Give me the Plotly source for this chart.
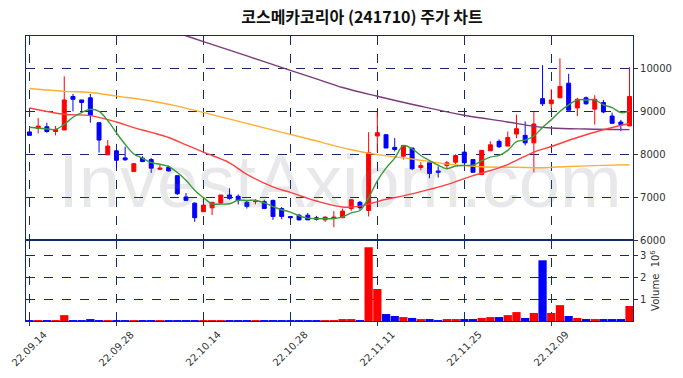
import plotly.graph_objects as go
from plotly.subplots import make_subplots
import pandas as pd

dates = ["22.09.14","22.09.15","22.09.16","22.09.19","22.09.20","22.09.21","22.09.22","22.09.23","22.09.26","22.09.27",
         "22.09.28","22.09.29","22.09.30","22.10.04","22.10.05","22.10.06","22.10.07","22.10.11","22.10.12","22.10.13",
         "22.10.14","22.10.17","22.10.18","22.10.19","22.10.20","22.10.21","22.10.24","22.10.25","22.10.26","22.10.27",
         "22.10.28","22.10.31","22.11.01","22.11.02","22.11.03","22.11.04","22.11.07","22.11.08","22.11.09","22.11.10",
         "22.11.11","22.11.14","22.11.15","22.11.16","22.11.17","22.11.18","22.11.21","22.11.22","22.11.23","22.11.24",
         "22.11.25","22.11.28","22.11.29","22.11.30","22.12.01","22.12.02","22.12.05","22.12.06","22.12.07","22.12.08",
         "22.12.09","22.12.12","22.12.13","22.12.14","22.12.15","22.12.16","22.12.19","22.12.20","22.12.21","22.12.22"]

opens = [8520, 8600, 8640, 8530, 8565, 9345, 9265, 9315, 8735, 7985,
         8080, 7915, 7595, 7910, 7875, 7650, 7690, 7500, 7005, 6860,
         6660, 6750, 6860, 7050, 7020, 6880, 6895, 6895, 6925, 6735,
         6550, 6580, 6580, 6520, 6470, 6505, 6520, 6735, 6880, 6690,
         8425, 8455, 8160, 7955, 8145, 7690, 7800, 7610, 7735, 7815,
         8050, 7875, 7525, 8080, 8300, 8190, 8470, 8440, 8265, 9295,
         9175, 9315, 9655, 9080, 9315, 9050, 9205, 8890, 8750, 8660]
highs = [8520, 8845, 8735, 8660, 9815, 9405, 9265, 9405, 8735, 8330,
         8080, 8175, 7780, 7955, 7910, 7750, 7735, 7500, 7095, 6880,
         6815, 6880, 7050, 7205, 7065, 6925, 6955, 6940, 6940, 6770,
         6560, 6610, 6630, 6565, 6550, 6675, 6735, 6955, 6910, 8515,
         8985, 8455, 8375, 8205, 8145, 7815, 7800, 7720, 7845, 8000,
         8050, 7875, 8090, 8300, 8345, 8530, 8925, 8765, 8985, 10075,
         9515, 10235, 9875, 9315, 9345, 9375, 9265, 8970, 8800, 10030]
lows = [8440, 8485, 8500, 8440, 8565, 9000, 8970, 8735, 8040, 7985,
        7675, 7845, 7595, 7815, 7565, 7630, 7595, 7050, 6910, 6425,
        6660, 6580, 6860, 6940, 6830, 6735, 6830, 6720, 6470, 6485,
        6510, 6455, 6470, 6455, 6425, 6300, 6520, 6680, 6705, 6550,
        8050, 8145, 8065, 7875, 7625, 7625, 7440, 7455, 7645, 7770,
        7800, 7580, 7525, 8080, 8145, 8190, 8375, 8205, 7580, 9125,
        9050, 9315, 9025, 8890, 9155, 8690, 8955, 8720, 8535, 8660]
closes = [8440, 8655, 8530, 8580, 9265, 9280, 9205, 8905, 8330, 8190,
          7860, 7870, 7780, 7830, 7675, 7675, 7610, 7080, 6925, 6520,
          6815, 6880, 7050, 6970, 6925, 6785, 6910, 6735, 6550, 6550,
          6520, 6470, 6470, 6485, 6535, 6535, 6675, 6940, 6755, 8035,
          8500, 8145, 8110, 8205, 7660, 7735, 7550, 7580, 7800, 7970,
          7800, 7580, 8090, 8220, 8175, 8390, 8595, 8265, 8705, 9175,
          9265, 9580, 9025, 9280, 9175, 9280, 8985, 8720, 8690, 9345]
volumes_m = [0.03, 0.04, 0.03, 0.04, 0.27, 0.02, 0.02, 0.08, 0.04, 0.04,
             0.03, 0.02, 0.03, 0.02, 0.03, 0.02, 0.02, 0.03, 0.02, 0.03,
             0.04, 0.04, 0.04, 0.02, 0.02, 0.02, 0.02, 0.02, 0.02, 0.02,
             0.02, 0.02, 0.02, 0.02, 0.03, 0.04, 0.05, 0.09, 0.02, 3.39,
             1.47, 0.32, 0.23, 0.18, 0.14, 0.05, 0.09, 0.03, 0.09, 0.05,
             0.09, 0.05, 0.14, 0.18, 0.18, 0.27, 0.41, 0.14, 0.37, 2.79,
             0.37, 0.73, 0.23, 0.14, 0.09, 0.09, 0.09, 0.09, 0.09, 0.69]

# first four 5-day average values (earlier closes not shown)
ma5_head = [8627, 8610, 8587, 8580]

# longer moving averages at sample positions
ma20_idx = [0, 4, 7, 10, 12, 14, 16, 18, 20, 23, 25, 28, 30, 33, 36, 38, 41, 43, 46, 48, 51, 53, 55, 58, 60, 63, 66, 69]
ma20_val = [9078, 8931, 8900, 8750, 8620, 8510, 8390, 8220, 8049, 7800, 7530, 7240, 7110, 6910, 6770, 6790, 6950, 7030,
            7180, 7290, 7500, 7620, 7760, 8050, 8180, 8390, 8570, 8715]
ma60_idx = [0, 4, 7, 10, 14, 17, 22, 27, 32, 37, 40, 44, 48, 52, 56, 59, 62, 66, 69]
ma60_val = [9530, 9465, 9440, 9355, 9240, 9120, 8870, 8615, 8360, 8105, 7990, 7890, 7770, 7710, 7695, 7685, 7715, 7740, 7755]
ma120_idx = [15, 18, 20, 25, 30, 33, 36, 40, 45, 50, 55, 58, 60, 64, 69]
ma120_val = [10960, 10760, 10626, 10291, 9956, 9755, 9554, 9352, 9118, 8908, 8751, 8650, 8611, 8587, 8573]

x = list(range(len(dates)))
ma5 = pd.Series(closes, dtype=float).rolling(5).mean().tolist()
ma5[:4] = ma5_head

up = [c >= o for o, c in zip(opens, closes)]
vol_colors = ["#ff0000" if u else "#0000ff" for u in up]
tick_pos = x[::10]
tick_txt = dates[::10]

NAVY = "#102a6b"
FONT = "DejaVu Sans, Liberation Sans, Arial"

fig = make_subplots(rows=2, cols=1, shared_xaxes=True, vertical_spacing=0.0,
                    row_heights=[0.716, 0.284])

# watermark (drawn first so it lies underneath)
fig.add_trace(go.Scatter(x=[35.7], y=[7200], mode="text", text=["InvestAxiom.com"],
                         textfont=dict(family="Liberation Sans, Arial", size=74, color="rgba(120,120,135,0.17)"),
                         hoverinfo="skip", showlegend=False), row=1, col=1)

fig.add_trace(go.Scatter(x=ma120_idx, y=ma120_val, mode="lines", line=dict(color="#7a3b7a", width=1.4, shape="spline"),
                         showlegend=False, hoverinfo="skip"), row=1, col=1)
fig.add_trace(go.Scatter(x=ma60_idx, y=ma60_val, mode="lines", line=dict(color="#ffb030", width=1.4, shape="spline"),
                         showlegend=False, hoverinfo="skip"), row=1, col=1)
fig.add_trace(go.Scatter(x=ma20_idx, y=ma20_val, mode="lines", line=dict(color="#ff4040", width=1.4, shape="spline"),
                         showlegend=False, hoverinfo="skip"), row=1, col=1)
fig.add_trace(go.Scatter(x=x, y=ma5, mode="lines", line=dict(color="#3a9a3a", width=1.4, shape="spline"),
                         showlegend=False, hoverinfo="skip"), row=1, col=1)

fig.add_trace(go.Candlestick(x=x, open=opens, high=highs, low=lows, close=closes,
                             increasing=dict(line=dict(color="#ff0000", width=1), fillcolor="#ff0000"),
                             decreasing=dict(line=dict(color="#0000ff", width=1), fillcolor="#0000ff"),
                             whiskerwidth=0, showlegend=False), row=1, col=1)

fig.add_trace(go.Bar(x=x, y=volumes_m, marker=dict(color=vol_colors, line=dict(width=0)),
                     width=0.95, showlegend=False), row=2, col=1)

axis_common = dict(showline=True, linecolor=NAVY, linewidth=1.2, mirror=True, automargin=False,
                   showgrid=True, gridcolor=NAVY, griddash="dash", gridwidth=1, zeroline=False)

fig.update_xaxes(**axis_common, range=[-0.4, 69.4], tickvals=tick_pos, showticklabels=False)
fig.update_xaxes(ticks="", rangeslider_visible=False, row=1, col=1)
fig.update_xaxes(ticks="outside", ticklen=4, tickcolor="#333", row=2, col=1)

# date labels centred under their ticks and rotated 45 degrees
for p, t in zip(tick_pos, tick_txt):
    fig.add_annotation(x=p, xref="x2", y=0, yref="paper", text=t, showarrow=False,
                       textangle=-45, xanchor="center", yanchor="top", yshift=-5,
                       font=dict(family=FONT, size=10, color="#333"))

fig.update_yaxes(**axis_common, side="right", ticks="outside", ticklen=4, tickcolor="#333",
                 ticklabeloverflow="allow", tickformat="d",
                 tickfont=dict(family=FONT, size=10, color="#333"))
fig.update_yaxes(range=[6000, 10755], tickvals=[6000, 7000, 8000, 9000, 10000], row=1, col=1)
fig.update_yaxes(range=[0, 3.72], tickvals=[1, 2, 3], row=2, col=1,
                 title=dict(text="Volume  10<sup>6</sup>", standoff=6,
                            font=dict(family=FONT, size=10, color="#333")))

fig.update_layout(
    width=683, height=378,
    margin=dict(l=26, r=50, t=36, b=57, autoexpand=False),
    paper_bgcolor="white", plot_bgcolor="white",
    boxgap=0.35,
    title=dict(text="<b>코스메카코리아 (241710) 주가 차트</b>", x=0.530, xanchor="center",
               y=0.955, yanchor="middle", yref="container",
               font=dict(family="Noto Sans CJK KR", size=16, color="#111")),
    bargap=0.05,
)

# remove the browser's default 8px page margin so the figure sits at the window's corner
fig.write_html("out.html", config={"displayModeBar": False},
               post_script="document.body.style.margin='0';")
